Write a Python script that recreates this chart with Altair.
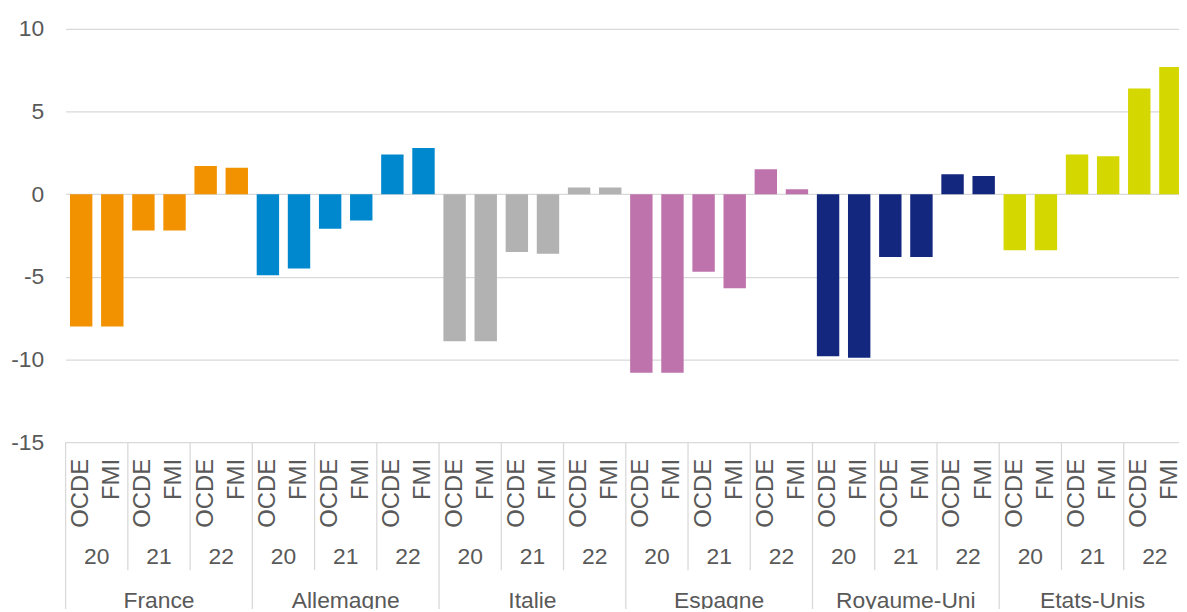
import altair as alt
import pandas as pd

countries = ["France", "Allemagne", "Italie", "Espagne", "Royaume-Uni", "Etats-Unis"]
years = ["20", "21", "22"]
sources = ["OCDE", "FMI"]
colors = ["#F39200", "#0088CE", "#B2B2B2", "#BF73AD", "#13277F", "#D4D700"]

# values per country: OCDE20, FMI20, OCDE21, FMI21, OCDE22, FMI22
france = [-8.0, -8.0, -2.2, -2.2, 1.7, 1.6]
allemagne = [-4.9, -4.5, -2.1, -1.6, 2.4, 2.8]
italie = [-8.9, -8.9, -3.5, -3.6, 0.4, 0.4]
espagne = [-10.8, -10.8, -4.7, -5.7, 1.5, 0.3]
royaume_uni = [-9.8, -9.9, -3.8, -3.8, 1.2, 1.1]
etats_unis = [-3.4, -3.4, 2.4, 2.3, 6.4, 7.7]
series = [france, allemagne, italie, espagne, royaume_uni, etats_unis]

y_ticks = [-15, -10, -5, 0, 5, 10]

rows = []
i = 0
for c, vals in zip(countries, series):
    k = 0
    for y in years:
        for s in sources:
            rows.append({"i": i, "x0": i + 0.14, "x1": i + 0.86, "xc": i + 0.5,
                         "country": c, "year": y, "source": s, "value": vals[k]})
            i += 1
            k += 1
bars_df = pd.DataFrame(rows)

year_rows = []
for ci, c in enumerate(countries):
    for yi, y in enumerate(years):
        year_rows.append({"xc": ci * 6 + yi * 2 + 1, "label": y})
years_df = pd.DataFrame(year_rows)

country_df = pd.DataFrame({"xc": [ci * 6 + 3 for ci in range(len(countries))], "label": countries})

year_sep_df = pd.DataFrame({"x": [ci * 6 + b for ci in range(len(countries)) for b in (2, 4)]})
country_sep_df = pd.DataFrame({"x": [ci * 6 for ci in range(len(countries) + 1)]})

N = len(countries) * 6
xscale = alt.Scale(domain=[0, N], range=[0, 1128], zero=False, nice=False)
yscale = alt.Scale(domain=[-15, 11.14], nice=False, zero=False)
FONT = "Liberation Sans"
GRID = "#D9D9D9"
TXT = "#595959"


def X(field):
    return alt.X(field, scale=xscale, axis=None)


bars = alt.Chart(bars_df).mark_bar(clip=True).encode(
    x=X("x0:Q"),
    x2="x1:Q",
    y=alt.Y("value:Q", scale=yscale,
            axis=alt.Axis(values=y_ticks, title=None, domain=False, ticks=False,
                          grid=True, gridColor=GRID, gridWidth=1.3,
                          labelFont=FONT, labelFontSize=23, labelColor=TXT,
                          labelPadding=22, labelExpr="'' + datum.value")),
    y2=alt.datum(0),
    color=alt.Color("country:N", scale=alt.Scale(domain=countries, range=colors), legend=None),
)

src_text = alt.Chart(bars_df).mark_text(
    angle=270, align="right", baseline="middle", font=FONT, fontSize=24, color=TXT
).encode(
    x=X("xc:Q"),
    y=alt.value(452),
    text="source:N",
)

year_text = alt.Chart(years_df).mark_text(
    align="center", baseline="alphabetic", font=FONT, fontSize=23, color=TXT
).encode(
    x=X("xc:Q"),
    y=alt.value(558),
    text="label:N",
)

country_text = alt.Chart(country_df).mark_text(
    align="center", baseline="alphabetic", font=FONT, fontSize=23, color=TXT
).encode(
    x=X("xc:Q"),
    y=alt.value(602),
    text="label:N",
)

year_sep = alt.Chart(year_sep_df).mark_rule(color=GRID, strokeWidth=1.3).encode(
    x=X("x:Q"),
    y=alt.value(435),
    y2=alt.value(564),
)

country_sep = alt.Chart(country_sep_df).mark_rule(color=GRID, strokeWidth=1.3).encode(
    x=X("x:Q"),
    y=alt.value(435),
    y2=alt.value(640),
)

chart = alt.layer(bars, year_sep, country_sep, src_text, year_text, country_text).properties(
    width=1121,
    height=435,
    background="white",
    autosize=alt.AutoSizeParams(type="none"),
    padding={"left": 58, "top": 0, "right": 0, "bottom": 166},
).configure_view(strokeWidth=0, stroke="transparent")

chart.save("out.html", embed_options={"renderer": "svg", "actions": False})
